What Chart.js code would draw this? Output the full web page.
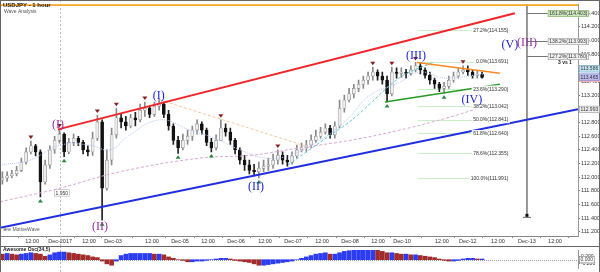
<!DOCTYPE html>
<html>
<head>
<meta charset="utf-8">
<script src="https://cdn.jsdelivr.net/npm/chart.js@4.4.1/dist/chart.umd.min.js"></script>
<style>
  html, body { margin: 0; padding: 0; background: #fff; }
  #wrap { position: relative; width: 600px; height: 272px; overflow: hidden; }
  .pane { position: absolute; left: 0; }
</style>
</head>
<body>
<div id="wrap">
  <div class="pane" style="top:0"><canvas id="main" width="600" height="246"></canvas></div>
  <div class="pane" style="top:246px"><canvas id="osc" width="600" height="26"></canvas></div>
</div>
<script>
const firstOpen = 111.96;
const closes = [
  111.99, 112.02, 112.05, 112.10, 112.22, 112.37, 112.46, 112.37, 111.93, 112.18,
  112.40, 112.54, 112.63, 112.37, 112.51, 112.57, 112.51, 112.40, 112.37, 112.57,
  112.81, 111.84, 112.25, 112.62, 112.87, 112.81, 112.75, 112.87, 112.84, 112.98,
  113.01, 112.92, 113.04, 113.07, 112.92, 112.75, 112.54, 112.43, 112.54, 112.60,
  112.69, 112.78, 112.69, 112.51, 112.43, 112.54, 112.72, 112.66, 112.54, 112.40,
  112.25, 112.18, 112.10, 112.08, 112.13, 112.16, 112.18, 112.25, 112.32, 112.25,
  112.22, 112.31, 112.40, 112.43, 112.47, 112.54, 112.60, 112.66, 112.72, 112.62,
  112.75, 113.01, 113.13, 113.22, 113.30, 113.36, 113.42, 113.48, 113.54, 113.48,
  113.42, 113.22, 113.54, 113.52, 113.54, 113.52, 113.57, 113.63, 113.57, 113.49,
  113.42, 113.36, 113.30, 113.33, 113.42, 113.48, 113.54, 113.57, 113.54, 113.49,
  113.51, 113.46
];
const highs = [
  112.08, 112.08, 112.10, 112.16, 112.28, 112.43, 112.53, 112.48, 112.40, 112.25,
  112.46, 112.60, 112.70, 112.65, 112.57, 112.63, 112.60, 112.54, 112.46, 112.66,
  112.91, 112.84, 112.40, 112.72, 113.01, 112.92, 112.89, 112.92, 112.95, 113.07,
  113.10, 113.04, 113.10, 113.14, 113.10, 112.98, 112.78, 112.60, 112.63, 112.69,
  112.75, 112.84, 112.81, 112.72, 112.57, 112.62, 112.84, 112.78, 112.72, 112.57,
  112.43, 112.32, 112.25, 112.19, 112.22, 112.25, 112.28, 112.34, 112.40, 112.37,
  112.32, 112.37, 112.47, 112.50, 112.54, 112.62, 112.69, 112.73, 112.78, 112.76,
  112.81, 113.13, 113.20, 113.30, 113.36, 113.42, 113.48, 113.54, 113.61, 113.57,
  113.54, 113.48, 113.61, 113.60, 113.60, 113.58, 113.63, 113.68, 113.67, 113.60,
  113.54, 113.45, 113.39, 113.39, 113.48, 113.54, 113.60, 113.63, 113.63, 113.57,
  113.55, 113.54
];
const lows = [
  111.90, 111.94, 111.99, 112.02, 112.08, 112.19, 112.34, 112.31, 111.71, 111.90,
  112.13, 112.35, 112.50, 112.30, 112.34, 112.46, 112.46, 112.34, 112.31, 112.32,
  112.54, 111.37, 111.81, 112.18, 112.57, 112.72, 112.69, 112.72, 112.75, 112.81,
  112.89, 112.87, 112.89, 112.98, 112.87, 112.69, 112.48, 112.35, 112.40, 112.48,
  112.54, 112.63, 112.63, 112.46, 112.37, 112.40, 112.54, 112.60, 112.48, 112.34,
  112.19, 112.10, 112.05, 112.02, 111.99, 112.08, 112.10, 112.13, 112.19, 112.19,
  112.16, 112.19, 112.28, 112.37, 112.37, 112.43, 112.51, 112.57, 112.63, 112.57,
  112.57, 112.72, 112.95, 113.10, 113.16, 113.25, 113.30, 113.36, 113.42, 113.42,
  113.36, 113.10, 113.19, 113.45, 113.46, 113.45, 113.49, 113.54, 113.51, 113.45,
  113.36, 113.30, 113.25, 113.23, 113.30, 113.39, 113.45, 113.51, 113.49, 113.45,
  113.45, 113.45
];
// Awesome Oscillator (34,5), one bar per candle
const aoValues = [
  0.32, 0.36, 0.32, 0.28, 0.32, 0.36, 0.40, 0.36, 0.32, 0.20,
  0.28, 0.40, 0.44, 0.44, 0.40, 0.36, 0.32, 0.28, 0.24, 0.16,
  0.12, -0.08, -0.24, -0.32, -0.08, 0.24, 0.32, 0.36, 0.36, 0.36,
  0.36, 0.36, 0.32, 0.32, 0.28, 0.16, 0.08, 0.00, -0.04, -0.12,
  -0.12, -0.08, -0.08, -0.04, 0.00, 0.04, 0.08, 0.08, 0.04, -0.04,
  -0.08, -0.12, -0.16, -0.24, -0.32, -0.32, -0.28, -0.24, -0.20, -0.16,
  -0.12, -0.08, 0.00, 0.08, 0.16, 0.24, 0.32, 0.36, 0.40, 0.32,
  0.32, 0.40, 0.48, 0.52, 0.56, 0.60, 0.60, 0.60, 0.60, 0.56,
  0.48, 0.40, 0.40, 0.36, 0.32, 0.32, 0.28, 0.28, 0.24, 0.20,
  0.16, 0.12, 0.04, -0.04, -0.08, -0.08, -0.04, 0.04, 0.08, 0.08,
  0.04, 0.04
];

const hourMax = 243.4;
const candleStartHour = 1;
const candleStepHours = 2;
const xTickHours = [13.5, 25.3, 37.5, 47.6, 64, 75.8, 87.6, 99.4, 111.6, 123.4, 135.6, 147.4, 159.2, 169.3, 186.1, 197, 209.7, 221.9, 233.7];
const xTickLabels = ['12:00', 'Dec-2017', '12:00', 'Dec-03', '12:00', 'Dec-05', '12:00', 'Dec-06', '12:00', 'Dec-07', '12:00', 'Dec-08', '12:00', 'Dec-10', '12:00', 'Dec-12', '12:00', 'Dec-13', '12:00'];
const priceTicks = [111.2, 111.4, 111.6, 111.8, 112.0, 112.2, 112.4, 112.6, 112.8, 113.0, 113.2, 113.4, 113.6, 113.8, 114.0, 114.2, 114.4];
const aoTicks = [-0.2, 0, 0.2];
const monthStartHour = 25.3;

// swing markers (candle indices)
const swingHighIdx = [6, 12, 20, 24, 30, 46, 58, 78, 82, 87, 97];
const swingLowIdx = [8, 13, 21, 37, 44, 54, 81, 93];

// trend lines and averages as [hour, price]
const redLine = [[24.4, 112.70], [216.8, 114.40]];
const blueLine = [[0, 111.26], [243.4, 112.993]];
const orangeLine = [[175.6, 113.68], [210.5, 113.52]];
const greenLine = [[162.1, 113.10], [210.5, 113.36]];
const topLine = [[0, 114.52], [243.4, 114.52]];
const projLine = [[221.9, 114.53], [221.9, 111.42]];
const peachLine = [[67.4, 113.13], [128.4, 112.46]];
const cyanLine = [[121.3, 112.18], [134.7, 112.51], [148.6, 112.85], [168.4, 113.46], [182.3, 113.68]];
const fastMa = [[0, 112.18], [12.6, 112.25], [25.3, 112.47], [37.9, 112.47], [46.3, 112.40], [54.7, 112.62], [67.4, 112.84], [80, 112.69], [90.5, 112.57], [101.1, 112.40], [111.6, 112.28], [122.1, 112.32], [134.7, 112.54], [146.1, 112.84], [155.8, 113.20], [168.4, 113.39], [176.8, 113.54], [187.4, 113.45], [203.4, 113.51]];
const slowMa = [[0, 111.64], [25.3, 111.84], [50.5, 112.08], [84.2, 112.28], [105.3, 112.32], [126.3, 112.43], [147.4, 112.54], [168.4, 112.69], [189.5, 112.88], [203.4, 113.03]];

// fibonacci levels
const fibRatios = ['27.2%', '0.0%', '23.6%', '38.2%', '50.0%', '61.8%', '78.6%', '100.0%'];
const fibPrices = [114.155, 113.691, 113.290, 113.042, 112.841, 112.640, 112.355, 111.991];
const fibHours = [176, 214.7];
const extRatios = ['161.8%', '138.2%', '127.2%'];
const extPrices = [114.403, 113.993, 113.780];
const extHours = [221.9, 230.7];
const priceTags = [113.586, 113.465];

// wave labels
const waveTexts = ['(I)', '(II)', '(I)', '(II)', '(III)', '(IV)', '(V)', '(III)'];
const waveHours = [24.4, 42.1, 66.9, 107.8, 175.2, 198.7, 214.7, 221.9];
const wavePrices = [112.76, 111.27, 113.19, 111.86, 113.78, 113.13, 113.93, 113.97];
const waveDegree = ['major', 'major', 'minor', 'minor', 'minor', 'minor', 'minor', 'major'];

const candleHours = closes.map((_, i) => candleStartHour + i * candleStepHours);
const opens = closes.map((c, i) => (i === 0 ? firstOpen : closes[i - 1]));
const isUp = closes.map((c, i) => c >= opens[i]);

const FONT = '"Liberation Sans", Arial, sans-serif';
const PURPLE = '#93309a';
const BLUE = '#1e24d8';

function lineDs(points, color, width, dash, tension, order) {
  return {
    type: 'line',
    data: points.map(([h, p]) => ({ x: h, y: p })),
    borderColor: color,
    borderWidth: width,
    borderDash: dash,
    pointRadius: 0,
    tension: tension,
    fill: false,
    order: order,
  };
}

function boxText(ctx, text, x, y, fill, stroke, align) {
  ctx.font = '5px ' + FONT;
  const w = ctx.measureText(text).width + 3;
  const left = align === 'right' ? x - w : x;
  ctx.fillStyle = fill;
  ctx.fillRect(left, y - 3.5, w, 7);
  if (stroke) {
    ctx.strokeStyle = stroke;
    ctx.lineWidth = 0.6;
    ctx.strokeRect(left + 0.3, y - 3.2, w - 0.6, 6.4);
  }
  ctx.fillStyle = '#333';
  ctx.textAlign = 'left';
  ctx.textBaseline = 'middle';
  ctx.fillText(text, left + 1.5, y + 0.3);
}

const mainOverlay = {
  id: 'mainOverlay',
  beforeDatasetsDraw(chart) {
    const { ctx, scales: { x, y } } = chart;
    ctx.save();
    // month start dotted line
    const mx = Math.round(x.getPixelForValue(monthStartHour)) + 0.5;
    ctx.strokeStyle = '#bbb';
    ctx.lineWidth = 1;
    ctx.setLineDash([2, 2]);
    ctx.beginPath();
    ctx.moveTo(mx, 0);
    ctx.lineTo(mx, chart.height);
    ctx.stroke();
    ctx.setLineDash([]);
    // fibonacci retracement lines
    const fx0 = x.getPixelForValue(fibHours[0]);
    const fx1 = x.getPixelForValue(fibHours[1]);
    ctx.strokeStyle = '#c9f0c4';
    fibPrices.forEach((p) => {
      const py = Math.round(y.getPixelForValue(p)) + 0.5;
      ctx.beginPath();
      ctx.moveTo(fx0, py);
      ctx.lineTo(fx1, py);
      ctx.stroke();
    });
    ctx.restore();
  },
  afterDatasetsDraw(chart) {
    const { ctx, scales: { x, y } } = chart;
    ctx.save();
    // swing markers
    ctx.fillStyle = '#8a1d1d';
    swingHighIdx.forEach((i) => {
      const px = x.getPixelForValue(candleHours[i]);
      const py = y.getPixelForValue(highs[i]) - 2;
      ctx.beginPath();
      ctx.moveTo(px - 2.5, py - 3.5);
      ctx.lineTo(px + 2.5, py - 3.5);
      ctx.lineTo(px, py);
      ctx.fill();
    });
    ctx.fillStyle = '#2b8a3e';
    swingLowIdx.forEach((i) => {
      const px = x.getPixelForValue(candleHours[i]);
      const py = y.getPixelForValue(lows[i]) + 2;
      ctx.beginPath();
      ctx.moveTo(px - 2.5, py + 3.5);
      ctx.lineTo(px + 2.5, py + 3.5);
      ctx.lineTo(px, py);
      ctx.fill();
    });
    // fibonacci labels
    const fx1 = x.getPixelForValue(fibHours[1]);
    fibRatios.forEach((r, i) => {
      boxText(ctx, r + '(' + fibPrices[i].toFixed(3) + ')', fx1, y.getPixelForValue(fibPrices[i]), 'rgba(255,255,255,0.9)', null, 'right');
    });
    // extension levels from the projection line
    const ex0 = x.getPixelForValue(extHours[0]);
    const ex1 = x.getPixelForValue(extHours[1]);
    extRatios.forEach((r, i) => {
      const py = Math.round(y.getPixelForValue(extPrices[i])) + 0.5;
      ctx.strokeStyle = '#777';
      ctx.lineWidth = 1;
      ctx.beginPath();
      ctx.moveTo(ex0, py);
      ctx.lineTo(ex1, py);
      ctx.stroke();
      boxText(ctx, r + '(' + extPrices[i].toFixed(3) + ')', ex1, py, i === 0 ? '#cfe9bf' : '#f2f2f2', i === 0 ? '#7fae6a' : '#999', 'left');
    });
    // projection end marker
    const vx = x.getPixelForValue(projLine[1][0]);
    const vy = y.getPixelForValue(projLine[1][1]);
    ctx.fillStyle = '#111';
    ctx.fillRect(vx - 1.5, vy - 3, 3, 3);
    ctx.fillStyle = '#666';
    ctx.fillRect(vx - 4, vy, 8, 1);
    // wave labels
    ctx.textAlign = 'center';
    ctx.textBaseline = 'middle';
    ctx.font = '12px "Liberation Serif", serif';
    waveTexts.forEach((t, i) => {
      ctx.fillStyle = waveDegree[i] === 'major' ? PURPLE : BLUE;
      ctx.fillText(t, x.getPixelForValue(waveHours[i]), y.getPixelForValue(wavePrices[i]));
    });
    // measurement box on the month line
    boxText(ctx, '1.950', x.getPixelForValue(monthStartHour) - 6, y.getPixelForValue(111.77), '#fff', '#aaa', 'left');
    ctx.restore();
  },
  afterDraw(chart) {
    const { ctx, chartArea: a, scales: { x, y } } = chart;
    ctx.save();
    // frame
    ctx.strokeStyle = '#666';
    ctx.lineWidth = 1;
    ctx.strokeRect(0.5, 0.5, chart.width - 1, chart.height);
    // title
    ctx.textAlign = 'left';
    ctx.textBaseline = 'middle';
    ctx.fillStyle = '#222';
    ctx.font = 'bold 6px ' + FONT;
    ctx.fillText('USDJPY - 1 hour', 3, 5);
    ctx.fillStyle = '#555';
    ctx.font = '5px ' + FONT;
    ctx.fillText('Wave Analysis', 4, 12);
    ctx.fillText('\u2295\u2296 MotiveWave', 3, a.bottom - 6);
    ctx.font = 'bold 5px ' + FONT;
    ctx.fillStyle = '#222';
    ctx.textAlign = 'center';
    ctx.fillText('3 vs 1', x.getPixelForValue(237.9), y.getPixelForValue(113.67));
    // price tags on the axis
    const tagX = a.right + 1;
    boxText(ctx, priceTags[0].toFixed(3), tagX, y.getPixelForValue(priceTags[0]), '#c4e4f4', '#7ab', 'left');
    ctx.fillStyle = '#f0b4b4';
    ctx.fillRect(tagX, y.getPixelForValue(priceTags[1]) + 2, 21, 3);
    boxText(ctx, priceTags[1].toFixed(3), tagX, y.getPixelForValue(priceTags[1]), '#bcbcf0', '#88c', 'left');
    boxText(ctx, blueLine[1][1].toFixed(3), tagX, y.getPixelForValue(blueLine[1][1]), '#eee', '#999', 'left');
    ctx.restore();
  },
};

new Chart(document.getElementById('main'), {
  type: 'bar',
  data: {
    datasets: [
      {
        data: candleHours.map((h, i) => ({ x: h, y: [lows[i], highs[i]] })),
        backgroundColor: isUp.map((u) => (u ? '#8a8a8a' : '#222')),
        barThickness: 1,
        grouped: false,
        order: 9,
      },
      {
        data: candleHours.map((h, i) => ({ x: h, y: [opens[i], closes[i]] })),
        backgroundColor: isUp.map((u) => (u ? '#ededed' : '#111')),
        borderColor: isUp.map((u) => (u ? '#8a8a8a' : '#111')),
        borderWidth: 0.6,
        borderSkipped: false,
        barThickness: 3,
        minBarLength: 1,
        grouped: false,
        order: 8,
      },
      lineDs(slowMa, '#dba6d8', 1, [3, 2], 0.4, 6),
      lineDs(fastMa, '#b9c6f2', 1, [1, 1], 0.4, 6),
      lineDs(peachLine, '#f6c89a', 1, [3, 2], 0, 6),
      lineDs(cyanLine, '#5cc8d8', 1, [3, 2], 0.3, 5),
      lineDs(projLine, '#888', 1, [], 0, 4),
      lineDs(topLine, '#f5a623', 2, [], 0, 3),
      lineDs(redLine, '#f0262a', 2, [], 0, 2),
      lineDs(blueLine, '#1f2ee0', 2, [], 0, 2),
      lineDs(orangeLine, '#f58a22', 1.5, [], 0, 2),
      lineDs(greenLine, '#259a25', 1.5, [], 0, 2),
    ],
  },
  options: {
    responsive: false,
    animation: false,
    layout: { padding: { top: 4, left: 0, right: 0, bottom: 0 } },
    plugins: { legend: { display: false }, tooltip: { enabled: false } },
    scales: {
      x: {
        type: 'linear',
        min: 0,
        max: hourMax,
        offset: false,
        grid: { display: true, drawOnChartArea: false, tickLength: 2, color: '#888' },
        border: { display: true, color: '#888' },
        ticks: {
          font: { size: 5.5, family: FONT },
          color: '#333',
          padding: 0,
          maxRotation: 0,
          autoSkip: false,
          callback: (v, i) => xTickLabels[i],
        },
        afterBuildTicks: (s) => { s.ticks = xTickHours.map((v) => ({ value: v })); },
        afterFit: (s) => { s.height = 10; },
      },
      y: {
        position: 'right',
        min: 111.14,
        max: 114.53,
        grid: { display: true, drawOnChartArea: false, tickLength: 2, color: '#777' },
        border: { display: true, color: '#999', dash: [1, 1] },
        ticks: {
          font: { size: 5.5, family: FONT },
          color: '#333',
          padding: 1,
          callback: (v) => v.toFixed(3),
        },
        afterBuildTicks: (s) => { s.ticks = priceTicks.map((v) => ({ value: v })); },
        afterFit: (s) => { s.width = 22; },
      },
    },
  },
  plugins: [mainOverlay],
});

const oscOverlay = {
  id: 'oscOverlay',
  beforeDatasetsDraw(chart) {
    const { ctx, chartArea: a, scales: { x, y } } = chart;
    ctx.save();
    const zy = Math.round(y.getPixelForValue(0)) + 0.5;
    ctx.strokeStyle = '#999';
    ctx.setLineDash([1, 1]);
    ctx.beginPath();
    ctx.moveTo(a.left, zy);
    ctx.lineTo(a.right, zy);
    ctx.stroke();
    const mx = Math.round(x.getPixelForValue(monthStartHour)) + 0.5;
    ctx.strokeStyle = '#bbb';
    ctx.setLineDash([2, 2]);
    ctx.beginPath();
    ctx.moveTo(mx, 0);
    ctx.lineTo(mx, chart.height);
    ctx.stroke();
    ctx.restore();
  },
  afterDraw(chart) {
    const { ctx, chartArea: a, scales: { y } } = chart;
    ctx.save();
    ctx.strokeStyle = '#666';
    ctx.strokeRect(0.5, 0.5, chart.width - 1, chart.height);
    ctx.fillStyle = '#222';
    ctx.font = 'bold 5px ' + FONT;
    ctx.textAlign = 'left';
    ctx.textBaseline = 'middle';
    ctx.fillText('Awesome Osc(34,5)', 3, 4);
    boxText(ctx, '0.000', a.right + 1, y.getPixelForValue(0), '#fff', '#777', 'left');
    ctx.restore();
  },
};

new Chart(document.getElementById('osc'), {
  type: 'bar',
  data: {
    datasets: [
      {
        data: candleHours.map((h, i) => ({ x: h, y: aoValues[i] })),
        backgroundColor: aoValues.map((v, i) => (i > 0 && v >= aoValues[i - 1] ? '#2c3cf2' : '#a22c2c')),
        barThickness: 4,
        grouped: false,
      },
    ],
  },
  options: {
    responsive: false,
    animation: false,
    layout: { padding: 0 },
    plugins: { legend: { display: false }, tooltip: { enabled: false } },
    scales: {
      x: { type: 'linear', min: 0, max: hourMax, offset: false, display: false },
      y: {
        position: 'right',
        min: -0.48,
        max: 0.56,
        grid: { display: true, drawOnChartArea: false, tickLength: 2, color: '#777' },
        border: { display: true, color: '#999' },
        ticks: {
          font: { size: 5, family: FONT },
          color: '#333',
          padding: 1,
          callback: (v) => v.toFixed(3),
        },
        afterBuildTicks: (s) => { s.ticks = aoTicks.map((v) => ({ value: v })); },
        afterFit: (s) => { s.width = 22; },
      },
    },
  },
  plugins: [oscOverlay],
});
</script>
</body>
</html>
